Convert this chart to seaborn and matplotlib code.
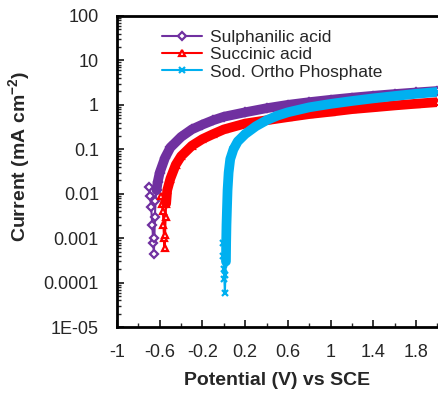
import matplotlib
matplotlib.use("Agg")
import matplotlib.pyplot as plt
import matplotlib.ticker as mticker
import seaborn as sns
import pandas as pd

# Potential (V vs SCE) and current density (mA cm-2)
sulph_v = [-0.70, -0.69, -0.68, -0.67, -0.66, -0.655, -0.65, -0.645, -0.64, -0.63, -0.62,
           -0.60, -0.55, -0.50, -0.40, -0.30, -0.20, -0.10, 0.00, 0.20, 0.40, 0.60,
           0.80, 1.00, 1.20, 1.40, 1.60, 1.80, 2.00]
sulph_i = [0.014, 0.009, 0.005, 0.002, 0.0008, 0.00045, 0.001, 0.003, 0.007, 0.012, 0.018,
           0.03, 0.065, 0.11, 0.19, 0.28, 0.36, 0.45, 0.54, 0.68, 0.84, 1.0,
           1.15, 1.3, 1.45, 1.6, 1.75, 1.9, 2.05]

succ_v = [-0.59, -0.58, -0.57, -0.565, -0.56, -0.555, -0.55, -0.545, -0.54, -0.53, -0.50,
          -0.45, -0.40, -0.30, -0.20, -0.10, 0.00, 0.20, 0.40, 0.60, 0.80, 1.00,
          1.20, 1.40, 1.60, 1.80, 2.00]
succ_i = [0.009, 0.006, 0.004, 0.002, 0.001, 0.0006, 0.0012, 0.003, 0.006, 0.012, 0.022,
          0.045, 0.07, 0.12, 0.17, 0.22, 0.28, 0.38, 0.45, 0.53, 0.62, 0.70,
          0.80, 0.88, 0.97, 1.06, 1.15]

phos_v = [-0.01, -0.005, 0.0, 0.005, 0.01, 0.015, 0.02, 0.022, 0.025, 0.03, 0.035,
          0.045, 0.06, 0.09, 0.13, 0.20, 0.30, 0.40, 0.50, 0.60, 0.80, 1.00,
          1.20, 1.40, 1.60, 1.80, 2.00]
phos_i = [0.0008, 0.0004, 0.0002, 0.00012, 0.00006, 0.00015, 0.0003, 0.0008, 0.002, 0.005, 0.012,
          0.03, 0.06, 0.10, 0.15, 0.22, 0.33, 0.45, 0.57, 0.68, 0.88, 1.05,
          1.22, 1.40, 1.58, 1.77, 1.95]

names = ["Sulphanilic acid", "Succinic acid", "Sod. Ortho Phosphate"]
y_ticks = [1e-5, 1e-4, 1e-3, 1e-2, 1e-1, 1, 10, 100]
y_labels = ["1E-05", "0.0001", "0.001", "0.01", "0.1", "1", "10", "100"]
x_ticks = [-1, -0.6, -0.2, 0.2, 0.6, 1, 1.4, 1.8]
x_labels = ["-1", "-0.6", "-0.2", "0.2", "0.6", "1", "1.4", "1.8"]

frames = []
for name, v, i in zip(names, [sulph_v, succ_v, phos_v], [sulph_i, succ_i, phos_i]):
    frames.append(pd.DataFrame({"Potential": v, "Current": i, "Inhibitor": name}))
df = pd.concat(frames, ignore_index=True)

sns.set_style("ticks")
plt.rcParams['font.family'] = ['Liberation Sans', 'DejaVu Sans']
plt.rcParams['mathtext.fontset'] = 'custom'
plt.rcParams['mathtext.rm'] = 'Liberation Sans'
plt.rcParams['mathtext.bf'] = 'Liberation Sans:bold'

colors = {"Sulphanilic acid": "#7030A0", "Succinic acid": "#FF0000", "Sod. Ortho Phosphate": "#00B0F0"}
markers = {"Sulphanilic acid": "D", "Succinic acid": "^", "Sod. Ortho Phosphate": "x"}
# where the dense marker band starts (current), drawn as a thick stroke
dense_from = {"Sulphanilic acid": 0.012, "Succinic acid": 0.006, "Sod. Ortho Phosphate": 0.0003}

fig = plt.figure(figsize=(4.39, 3.98), dpi=100)
ax = fig.add_axes([0.2665, 0.178, 0.73, 0.782])

for name in names:
    sub = df[df["Inhibitor"] == name].reset_index(drop=True)
    c = colors[name]
    mk = markers[name]
    face = c if mk == "x" else "white"
    sns.lineplot(data=sub, x="Potential", y="Current", sort=False, estimator=None,
                 color=c, lw=1.5, marker=mk, markersize=5 if mk != "D" else 4.5,
                 markerfacecolor=face, markeredgecolor=c, mew=1.6, ax=ax, label=name)
    # anodic part of the sweep where markers overlap into a solid band
    start = sub.index[(sub["Current"] >= dense_from[name]) & (sub.index > sub["Current"].idxmin())][0]
    band = sub.iloc[start:]
    sns.lineplot(data=band, x="Potential", y="Current", sort=False, estimator=None,
                 color=c, lw=7, ax=ax, legend=False, solid_capstyle="round", zorder=3)

ax.set_yscale("log")
ax.set_xlim(-1, 2)
ax.set_ylim(1e-5, 100)
ax.yaxis.set_major_locator(mticker.FixedLocator(y_ticks))
ax.yaxis.set_major_formatter(mticker.FixedFormatter(y_labels))
ax.yaxis.set_minor_locator(mticker.LogLocator(base=10, subs=range(2, 10), numticks=20))
ax.yaxis.set_minor_formatter(mticker.NullFormatter())
ax.xaxis.set_major_locator(mticker.FixedLocator(x_ticks))
ax.xaxis.set_major_formatter(mticker.FixedFormatter(x_labels))
ax.xaxis.set_minor_locator(mticker.MultipleLocator(0.2))

ax.tick_params(axis="both", which="major", direction="in", length=5, width=1.3, labelsize=13)
ax.tick_params(axis="both", which="minor", direction="in", length=3, width=1.0)
ax.tick_params(axis="y", which="major", pad=13)
ax.tick_params(axis="x", which="major", pad=12)

for side in ["left", "bottom", "top"]:
    ax.spines[side].set_linewidth(2)
    ax.spines[side].set_color("black")
ax.spines["right"].set_visible(False)

ax.set_xlabel("Potential (V) vs SCE", fontsize=14, fontweight="bold")
ax.set_ylabel("Current (mA cm$^{\\mathbf{-2}}$)", fontsize=14, fontweight="bold")
ax.xaxis.set_label_coords(0.5, -0.145)
ax.yaxis.set_label_coords(-0.262, 0.547)

leg = ax.legend(loc="upper left", bbox_to_anchor=(0.14, 0.955), frameon=False, fontsize=12.5,
                handlelength=2.3, handletextpad=0.45, labelspacing=0.12, borderaxespad=0, borderpad=0)
for h in leg.get_lines():
    h.set_linewidth(1.5)

fig.savefig("out.png", dpi=100)
